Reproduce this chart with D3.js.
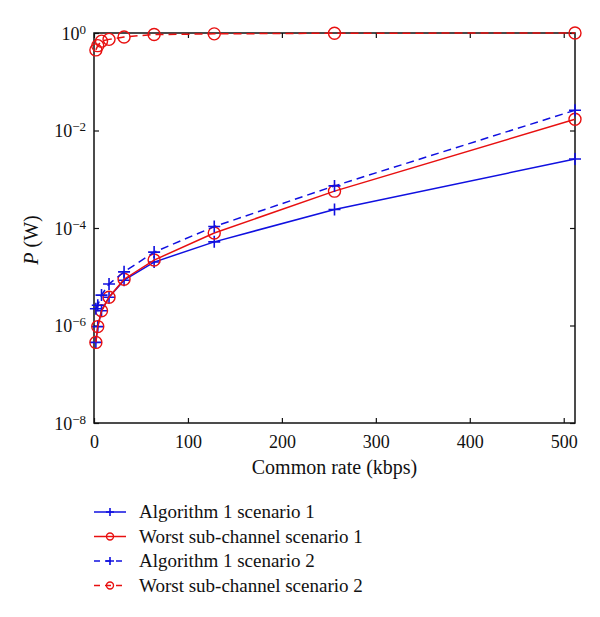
<!DOCTYPE html>
<html>
<head>
<meta charset="utf-8">
<script src="https://cdn.jsdelivr.net/npm/d3@7"></script>
<style>
  html, body { margin: 0; padding: 0; background: #fff; }
  svg text { font-family: "Liberation Serif", "DejaVu Serif", serif; fill: #111; }
</style>
</head>
<body>
<svg id="chart" width="600" height="617"></svg>
<script>
// ---- data ----
const rates = [2, 4, 8, 16, 32, 64, 128, 256, 512];
const alg1S1 = [4.5e-7, 9.5e-7, 2.0e-6, 3.8e-6, 8.5e-6, 2.0e-5, 5.2e-5, 2.4e-4, 2.6e-3];
const worstS1 = [4.5e-7, 9.5e-7, 2.0e-6, 3.8e-6, 8.9e-6, 2.2e-5, 7.9e-5, 5.7e-4, 1.7e-2];
const alg1S2 = [2.2e-6, 2.6e-6, 4.2e-6, 7.1e-6, 1.26e-5, 3.2e-5, 1.07e-4, 7.3e-4, 2.6e-2];
const worstS2 = [0.45, 0.55, 0.68, 0.74, 0.83, 0.93, 0.96, 0.99, 1.0];
const xTicks = [0, 100, 200, 300, 400, 500];
const yTickExps = [0, -2, -4, -6, -8];
const seriesNames = ["Algorithm 1 scenario 1", "Worst sub-channel scenario 1", "Algorithm 1 scenario 2", "Worst sub-channel scenario 2"];

const series = [
  { name: seriesNames[0], values: alg1S1, color: "#1010e0", dash: null, marker: "plus" },
  { name: seriesNames[1], values: worstS1, color: "#e81010", dash: null, marker: "circle" },
  { name: seriesNames[2], values: alg1S2, color: "#1010e0", dash: "8,5", marker: "plus" },
  { name: seriesNames[3], values: worstS2, color: "#e81010", dash: "8,5", marker: "circle" }
];

// ---- layout ----
const svg = d3.select("#chart");
const L = 94, R = 575, T = 33, B = 423;

const x = d3.scaleLinear().domain([0, 512]).range([L, R]);
const y = d3.scaleLog().domain([1e-8, 1]).range([B, T]);

// frame
svg.append("rect").attr("x", L).attr("y", T).attr("width", R - L).attr("height", B - T)
  .attr("fill", "none").attr("stroke", "#111").attr("stroke-width", 1.5);

const yTickVals = yTickExps.map(e => Math.pow(10, e));

function styleAxis(g) {
  g.select(".domain").remove();
  g.selectAll(".tick line").attr("stroke", "#111").attr("stroke-width", 1.2);
}

// bottom axis
const gb = svg.append("g").attr("transform", `translate(0,${B})`)
  .call(d3.axisBottom(x).tickValues(xTicks).tickSize(-5).tickPadding(12));
styleAxis(gb);
gb.selectAll(".tick text").attr("font-size", 18).attr("fill", "#111");

// top axis
const gt = svg.append("g").attr("transform", `translate(0,${T})`)
  .call(d3.axisTop(x).tickValues(xTicks).tickSize(-5).tickFormat(""));
styleAxis(gt);

// left axis
const gl = svg.append("g").attr("transform", `translate(${L},0)`)
  .call(d3.axisLeft(y).tickValues(yTickVals).tickSize(-5).tickFormat(""));
styleAxis(gl);
gl.selectAll(".tick").each(function(d) {
  const e = Math.round(Math.log10(d));
  const t = d3.select(this).append("text")
    .attr("x", -8).attr("y", 0).attr("dy", "0.35em")
    .attr("text-anchor", "end").attr("font-size", 18).attr("fill", "#111");
  t.append("tspan").text("10");
  t.append("tspan").attr("dy", "-0.45em").attr("font-size", 13)
    .text(e === 0 ? "0" : "\u2212" + Math.abs(e));
});

// right axis
const gr = svg.append("g").attr("transform", `translate(${R},0)`)
  .call(d3.axisRight(y).tickValues(yTickVals).tickSize(-5).tickFormat(""));
styleAxis(gr);

// axis titles
svg.append("text").attr("x", (L + R) / 2).attr("y", 474)
  .attr("text-anchor", "middle").attr("font-size", 20).text("Common rate (kbps)");

const yl = svg.append("text").attr("transform", `translate(38,${(T + B) / 2 + 12}) rotate(-90)`)
  .attr("text-anchor", "middle").attr("font-size", 20);
yl.append("tspan").attr("font-style", "italic").text("P");
yl.append("tspan").text(" (W)");

// ---- series ----
const line = d3.line().x(d => x(d[0])).y(d => y(d[1]));

function drawMarker(g, type, cx, cy, color, size) {
  if (type === "circle") {
    g.append("circle").attr("cx", cx).attr("cy", cy).attr("r", size)
      .attr("fill", "none").attr("stroke", color).attr("stroke-width", 1.4);
  } else {
    g.append("path")
      .attr("d", `M${cx - size},${cy}H${cx + size}M${cx},${cy - size}V${cy + size}`)
      .attr("stroke", color).attr("stroke-width", 1.6).attr("fill", "none");
  }
}

series.forEach(s => {
  const pts = rates.map((r, i) => [r, s.values[i]]);
  const g = svg.append("g");
  g.append("path").datum(pts).attr("d", line)
    .attr("fill", "none").attr("stroke", s.color).attr("stroke-width", 1.5)
    .attr("stroke-dasharray", s.dash);
  pts.forEach(p => drawMarker(g, s.marker, x(p[0]), y(p[1]), s.color, 6));
});

// ---- legend ----
const legY0 = 512, legDy = 24.5;
series.forEach((s, i) => {
  const yy = legY0 + i * legDy;
  const g = svg.append("g");
  g.append("line").attr("x1", 94).attr("x2", 126).attr("y1", yy).attr("y2", yy)
    .attr("stroke", s.color).attr("stroke-width", 1.5)
    .attr("stroke-dasharray", s.dash ? "6,5" : null);
  drawMarker(g, s.marker, 110, yy, s.color, s.marker === "circle" ? 3.5 : 4);
  svg.append("text").attr("x", 139).attr("y", yy).attr("dy", "0.32em")
    .attr("font-size", 19).text(s.name);
});
</script>
</body>
</html>
